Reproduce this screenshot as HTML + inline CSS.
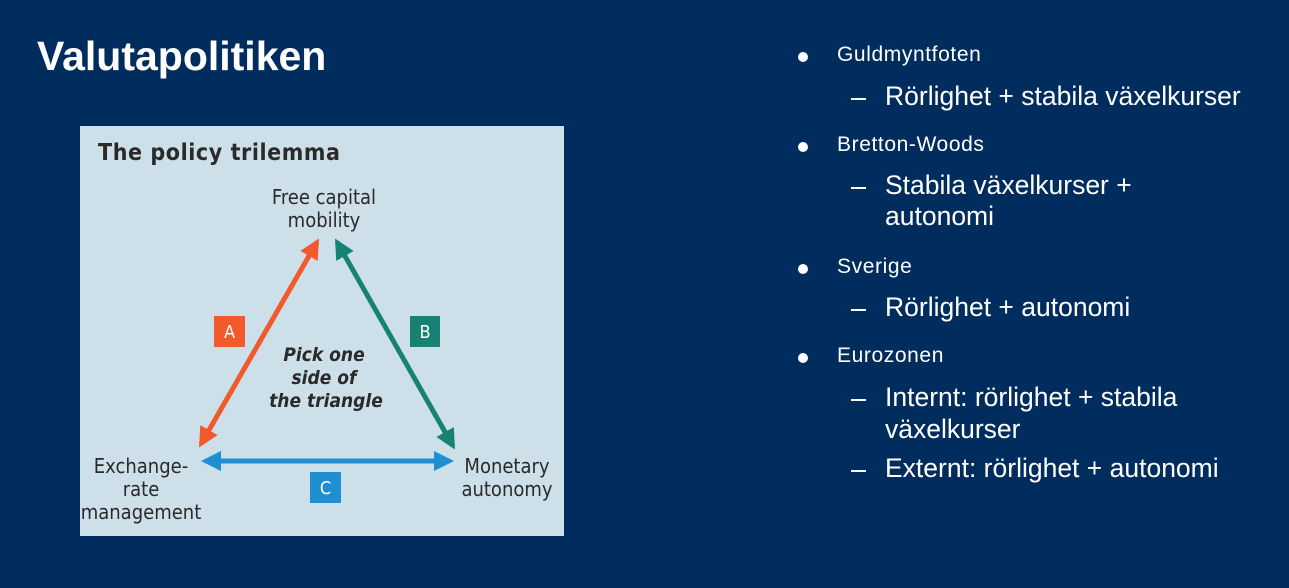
<!DOCTYPE html>
<html><head><meta charset="utf-8"><style>
body{margin:0;width:1289px;height:588px;background:#002d5d;position:relative;overflow:hidden;font-family:"Liberation Sans",sans-serif;color:#fff}
.a{position:absolute;white-space:nowrap}
.h{left:37px;top:33px;font-size:41px;font-weight:bold}
.b{font-size:21px;letter-spacing:0.6px}
.s{font-size:26.5px}
.dot{position:absolute;width:10px;height:10px;border-radius:50%;background:#fff}
.dash{position:absolute;width:15px;height:2px;background:#fff}
</style></head><body>
<div class="a h">Valutapolitiken</div>
<svg class="a" style="left:80px;top:126px" width="484" height="410" viewBox="80 126 484 410">
<defs>
<marker id="mr" viewBox="0 0 10 10" refX="8" refY="5" markerWidth="4.5" markerHeight="4" orient="auto-start-reverse"><path d="M0,0L10,5L0,10z" fill="#f15a2c"/></marker>
<marker id="mg" viewBox="0 0 10 10" refX="8" refY="5" markerWidth="4.5" markerHeight="4" orient="auto-start-reverse"><path d="M0,0L10,5L0,10z" fill="#178273"/></marker>
<marker id="mb" viewBox="0 0 10 10" refX="8" refY="5" markerWidth="4.5" markerHeight="4" orient="auto-start-reverse"><path d="M0,0L10,5L0,10z" fill="#1e8fd0"/></marker>
</defs>
<rect x="80" y="126" width="484" height="410" fill="#cddfe9"/>
<g font-family="DejaVu Sans Condensed, DejaVu Sans, sans-serif" fill="#2a2a2a">
<text x="98" y="160" font-size="23" font-weight="bold" textLength="242">The policy trilemma</text>
<text x="324" y="204" font-size="20" text-anchor="middle">Free capital</text>
<text x="324" y="227" font-size="20" text-anchor="middle">mobility</text>
<text x="141" y="473" font-size="20" text-anchor="middle">Exchange-</text>
<text x="141" y="496" font-size="20" text-anchor="middle">rate</text>
<text x="141" y="519" font-size="20" text-anchor="middle">management</text>
<text x="507" y="473" font-size="20" text-anchor="middle">Monetary</text>
<text x="507" y="496" font-size="20" text-anchor="middle">autonomy</text>
<g font-style="italic" font-weight="bold" font-size="19" text-anchor="middle">
<text x="324" y="361">Pick one</text>
<text x="324" y="384">side of</text>
<text x="326" y="407">the triangle</text>
</g>
</g>
<line x1="201" y1="444" x2="317" y2="242" stroke="#f15a2c" stroke-width="5" marker-start="url(#mr)" marker-end="url(#mr)"/>
<line x1="337" y1="242" x2="453" y2="446" stroke="#178273" stroke-width="5" marker-start="url(#mg)" marker-end="url(#mg)"/>
<line x1="205" y1="461" x2="450" y2="461" stroke="#1e8fd0" stroke-width="5" marker-start="url(#mb)" marker-end="url(#mb)"/>
<rect x="214" y="316" width="31" height="31" fill="#f15a2c"/>
<rect x="410" y="316" width="30" height="31" fill="#178273"/>
<rect x="310" y="472" width="31" height="31" fill="#1e8fd0"/>
<g fill="#fff" font-size="18" text-anchor="middle" font-family="DejaVu Sans Condensed, sans-serif">
<text x="229.5" y="338">A</text><text x="425" y="338">B</text><text x="325.5" y="494">C</text>
</g>
</svg>
<div class="dot" style="left:798px;top:52px"></div>
<div class="a b" style="left:837px;top:43px">Guldmyntfoten</div>
<div class="dash" style="left:851px;top:98px"></div>
<div class="a s" style="left:885px;top:81px">Rörlighet + stabila växelkurser</div>
<div class="dot" style="left:798px;top:142px"></div>
<div class="a b" style="left:837px;top:133px">Bretton-Woods</div>
<div class="dash" style="left:851px;top:187px"></div>
<div class="a s" style="left:885px;top:170px">Stabila växelkurser +</div>
<div class="a s" style="left:885px;top:201px">autonomi</div>
<div class="dot" style="left:798px;top:264px"></div>
<div class="a b" style="left:837px;top:255px">Sverige</div>
<div class="dash" style="left:851px;top:309px"></div>
<div class="a s" style="left:885px;top:292px">Rörlighet + autonomi</div>
<div class="dot" style="left:798px;top:353px"></div>
<div class="a b" style="left:837px;top:344px">Eurozonen</div>
<div class="dash" style="left:851px;top:399px"></div>
<div class="a s" style="left:885px;top:382px">Internt: rörlighet + stabila</div>
<div class="a s" style="left:885px;top:414px">växelkurser</div>
<div class="dash" style="left:851px;top:470px"></div>
<div class="a s" style="left:885px;top:453px">Externt: rörlighet + autonomi</div>
</body></html>
